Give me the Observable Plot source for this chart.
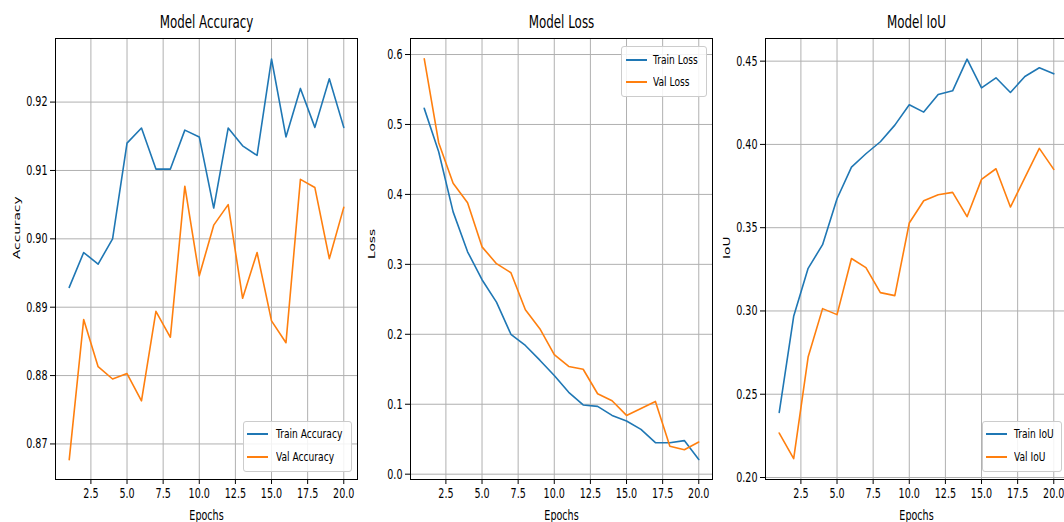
<!DOCTYPE html>
<html>
<head>
<meta charset="utf-8">
<script src="https://cdn.jsdelivr.net/npm/d3@7"></script>
<script src="https://cdn.jsdelivr.net/npm/@observablehq/plot@0.6"></script>
<style>
  html, body { margin: 0; padding: 0; background: #fff; overflow: hidden; }
  #wrap { position: relative; width: 1064px; height: 522px; overflow: hidden; background: #fff; }
  .panel { position: absolute; top: 0; width: 362px; height: 522px; }
  .panel svg { max-width: none !important; }
  .legend { position: absolute; background: rgba(255,255,255,0.85); border: 1px solid #cccccc; border-radius: 3px; box-sizing: border-box; }
  .legend .row { position: absolute; left: 0; height: 0; }
  .legend .sw { position: absolute; height: 2px; top: -1px; }
  .legend .lab { position: absolute; top: -9px; white-space: nowrap; font-family: "DejaVu Sans", sans-serif; font-size: 13px; line-height: 18px; transform: scaleX(0.7); transform-origin: left center; color: #000; }
</style>
</head>
<body>
<div id="wrap"></div>
<script>
const epochs = d3.range(1, 21);
const trainAcc = [0.8929, 0.8980, 0.8963, 0.9000, 0.9140, 0.9162, 0.9102, 0.9102, 0.9159, 0.9149,
                  0.9045, 0.9162, 0.9136, 0.9122, 0.9263, 0.9149, 0.9220, 0.9163, 0.9234, 0.9163];
const valAcc   = [0.8677, 0.8882, 0.8813, 0.8795, 0.8803, 0.8763, 0.8894, 0.8856, 0.9077, 0.8946,
                  0.9020, 0.9050, 0.8913, 0.8980, 0.8880, 0.8848, 0.9087, 0.9075, 0.8971, 0.9046];
const trainLoss = [0.523, 0.461, 0.375, 0.318, 0.278, 0.246, 0.200, 0.184, 0.163, 0.141,
                   0.117, 0.099, 0.097, 0.084, 0.076, 0.064, 0.045, 0.045, 0.048, 0.021];
const valLoss   = [0.594, 0.474, 0.416, 0.388, 0.325, 0.301, 0.288, 0.235, 0.208, 0.171,
                   0.154, 0.150, 0.115, 0.105, 0.084, 0.094, 0.104, 0.040, 0.035, 0.046];
const trainIoU = [0.2391, 0.2968, 0.3256, 0.3398, 0.3674, 0.3864, 0.3944, 0.4016, 0.4116, 0.4238,
                  0.4194, 0.4300, 0.4322, 0.4512, 0.4340, 0.4400, 0.4312, 0.4408, 0.4460, 0.4424];
const valIoU   = [0.2267, 0.2113, 0.2723, 0.3014, 0.2978, 0.3315, 0.3260, 0.3110, 0.3092, 0.3528,
                  0.3662, 0.3698, 0.3712, 0.3566, 0.3790, 0.3854, 0.3624, 0.3800, 0.3976, 0.3850];

const xTicks = [2.5, 5, 7.5, 10, 12.5, 15, 17.5, 20];
const accTicks = [0.87, 0.88, 0.89, 0.90, 0.91, 0.92];
const lossTicks = [0.0, 0.1, 0.2, 0.3, 0.4, 0.5, 0.6];
const iouTicks = [0.20, 0.25, 0.30, 0.35, 0.40, 0.45];

const BLUE = "#1f77b4", ORANGE = "#ff7f0e";
const SQUASH = 0.7;

const panels = [
  {left: 0, title: "Model Accuracy", ylabel: "Accuracy", train: trainAcc, val: valAcc,
   names: ["Train Accuracy", "Val Accuracy"], domain: [0.8648, 0.9293], ticks: accTicks, fmt: ".2f",
   legend: {left: 243, top: 421, width: 109, height: 51, sw: 3, text: 32, rows: [12, 35]}},
  {left: 355, title: "Model Loss", ylabel: "Loss", train: trainLoss, val: valLoss,
   names: ["Train Loss", "Val Loss"], domain: [-0.0076, 0.6229], ticks: lossTicks, fmt: ".1f",
   legend: {left: 621, top: 46, width: 86, height: 51, sw: 4, text: 31, rows: [13, 35]}},
  {left: 710, title: "Model IoU", ylabel: "IoU", train: trainIoU, val: valIoU,
   names: ["Train IoU", "Val IoU"], domain: [0.1988, 0.4636], ticks: iouTicks, fmt: ".2f",
   legend: {left: 982, top: 421, width: 80, height: 51, sw: 3, text: 31, rows: [12, 35]}}
];

const wrap = document.getElementById("wrap");

function squashText(svg) {
  svg.querySelectorAll("text").forEach(t => {
    const tr = t.getAttribute("transform") || "";
    const m = tr.match(/^\s*(translate\([^)]*\))(.*)$/);
    if (m) t.setAttribute("transform", m[1] + ` scale(${SQUASH},1)` + m[2]);
    else t.setAttribute("transform", `scale(${SQUASH},1) ` + tr);
  });
}

for (const p of panels) {
  const rows = epochs.flatMap((e, i) => [
    {epoch: e, value: p.train[i], series: p.names[0]},
    {epoch: e, value: p.val[i], series: p.names[1]}
  ]);
  const chart = Plot.plot({
    width: 362, height: 522,
    marginLeft: 55, marginRight: 5, marginTop: 38, marginBottom: 43,
    style: {fontFamily: "DejaVu Sans, sans-serif", fontSize: "13.7px", color: "#000", background: "transparent", overflow: "visible", maxWidth: "none"},
    x: {domain: [0.05, 20.95]},
    y: {domain: p.domain},
    marks: [
      Plot.gridX(xTicks, {stroke: "#b0b0b0", strokeOpacity: 1, strokeWidth: 1}),
      Plot.gridY(p.ticks, {stroke: "#b0b0b0", strokeOpacity: 1, strokeWidth: 1}),
      Plot.axisX(xTicks, {tickSize: 5, tickPadding: 4, tickFormat: d3.format(".1f"), label: null, stroke: "#000", fill: "#000"}),
      Plot.axisY(p.ticks, {tickSize: 5, tickPadding: 3, tickFormat: d3.format(p.fmt), label: null, stroke: "#000", fill: "#000"}),
      Plot.line(rows, {x: "epoch", y: "value", z: "series",
        stroke: d => d.series === p.names[0] ? BLUE : ORANGE, strokeWidth: 1.6}),
      Plot.frame({stroke: "#000", strokeWidth: 1}),
      Plot.text([p.title], {frameAnchor: "top", dy: -16, fontSize: 17, lineAnchor: "middle", fill: "#000"}),
      Plot.text([p.ylabel], {frameAnchor: "left", dx: -39, rotate: -90, fontSize: 13.7, lineAnchor: "middle", fill: "#000"}),
      Plot.text(["Epochs"], {frameAnchor: "bottom", dy: 36, fontSize: 13.7, lineAnchor: "middle", fill: "#000"})
    ]
  });
  chart.style.maxWidth = "none";
  squashText(chart);
  const holder = document.createElement("div");
  holder.className = "panel";
  holder.style.left = p.left + "px";
  holder.appendChild(chart);
  wrap.appendChild(holder);

  const L = p.legend;
  const lg = document.createElement("div");
  lg.className = "legend";
  Object.assign(lg.style, {left: L.left + "px", top: L.top + "px", width: L.width + "px", height: L.height + "px"});
  [BLUE, ORANGE].forEach((c, k) => {
    const r = document.createElement("div");
    r.className = "row";
    r.style.top = L.rows[k] + "px";
    const sw = document.createElement("div");
    sw.className = "sw";
    Object.assign(sw.style, {left: L.sw + "px", width: "21px", background: c});
    const lab = document.createElement("div");
    lab.className = "lab";
    lab.style.left = L.text + "px";
    lab.textContent = p.names[k];
    r.appendChild(sw); r.appendChild(lab);
    lg.appendChild(r);
  });
  wrap.appendChild(lg);
}
</script>
</body>
</html>
